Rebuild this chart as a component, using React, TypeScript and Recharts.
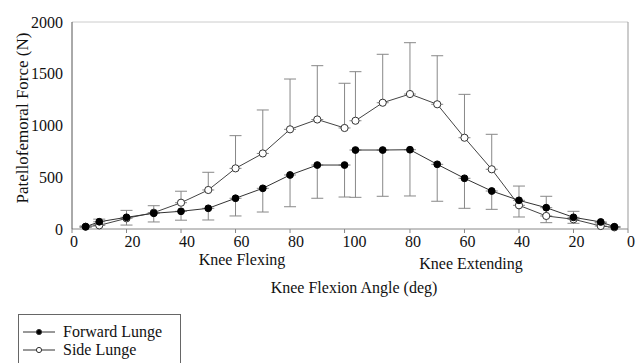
import React from "react";
import { LineChart, Line, XAxis, YAxis, ErrorBar, ReferenceLine } from "recharts";

// knee angle in degrees, flexing phase then extending phase
const flexAngles = [5, 10, 20, 30, 40, 50, 60, 70, 80, 90, 100];
const extAngles = [100, 90, 80, 70, 60, 50, 40, 30, 20, 10, 5];

// Forward lunge (mean, lower SD end)
const fwdFlex = [22, 70, 113, 152, 171, 200, 297, 393, 522, 618, 618];
const fwdFlexLow = [15, 45, 38, 68, 85, 87, 126, 164, 215, 297, 309];
const fwdExt = [763, 763, 766, 625, 490, 367, 277, 206, 113, 68, 22];
const fwdExtLow = [306, 316, 319, 268, 200, 190, 116, 61, 55, 48, 15];

// Side lunge (mean, upper SD end)
const sideFlex = [22, 35, 103, 158, 254, 377, 586, 730, 963, 1058, 976];
const sideFlexHigh = [30, 95, 180, 225, 365, 548, 902, 1150, 1449, 1578, 1408];
const sideExt = [1046, 1220, 1304, 1205, 882, 577, 229, 126, 94, 29, 16];
const sideExtHigh = [1520, 1688, 1800, 1674, 1301, 915, 415, 316, 171, 62, 25];

const xTicks = [0, 20, 40, 60, 80, 100, 80, 60, 40, 20, 0];
const yTicks = [0, 500, 1000, 1500, 2000];

// extending phase is laid out after a small gap, angle running back to 0
const EXT_END = 204;
const toPos = (angle: number, ext: boolean) => (ext ? EXT_END - angle : angle);

const data: any[] = [];
flexAngles.forEach((a, i) => {
  data.push({
    x: toPos(a, false),
    fwd: fwdFlex[i],
    side: sideFlex[i],
    fwdErr: [fwdFlex[i] - fwdFlexLow[i], 0],
    sideErr: [0, sideFlexHigh[i] - sideFlex[i]],
  });
});
data.push({ x: 102, fwd: null, side: null, fwdErr: null, sideErr: null });
extAngles.forEach((a, i) => {
  data.push({
    x: toPos(a, true),
    fwd: fwdExt[i],
    side: sideExt[i],
    fwdErr: [fwdExt[i] - fwdExtLow[i], 0],
    sideErr: [0, sideExtHigh[i] - sideExt[i]],
  });
});

const tickPositions = xTicks.map((t, i) => toPos(t, i > 5));

const font = "'Liberation Serif', 'Times New Roman', serif";

function XTick(props: any) {
  const { x, y, payload, index } = props;
  const label = xTicks[index];
  const dx = index === 0 ? 2 : index === 5 ? 10 : index < 5 ? 6 : 3;
  return (
    <text x={x + dx} y={y} dy="0.75em" textAnchor="middle" fontSize={16} fontFamily={font} fill="#111">
      {label ?? payload.value}
    </text>
  );
}

function XLabel() {
  return (
    <g fontFamily={font} fontSize={16} fill="#111">
      <text x={242} y={259} textAnchor="middle" dominantBaseline="central">Knee Flexing</text>
      <text x={471} y={263} textAnchor="middle" dominantBaseline="central">Knee Extending</text>
      <text x={354} y={287} textAnchor="middle" dominantBaseline="central">Knee Flexion Angle (deg)</text>
    </g>
  );
}

function YLabel() {
  return (
    <text
      x={22}
      y={118}
      transform="rotate(-90 22 118)"
      textAnchor="middle"
      dominantBaseline="central"
      fontSize={17}
      fontFamily={font}
      fill="#111"
    >
      Patellofemoral Force (N)
    </text>
  );
}

export default function App() {
  return (
    <div style={{ position: "absolute", left: 0, top: 0, width: 641, height: 363, overflow: "hidden", background: "#fff" }}>
      <LineChart width={641} height={363} data={data} margin={{ top: 22, right: 13, left: 0, bottom: 104 }}>
        <XAxis
          dataKey="x"
          type="number"
          domain={[0, EXT_END]}
          ticks={tickPositions}
          interval={0}
          height={30}
          stroke="#888"
          tickSize={4}
          tick={<XTick />}
          label={<XLabel />}
        />
        <YAxis
          type="number"
          domain={[0, 2000]}
          ticks={yTicks}
          width={72}
          stroke="#555"
          tickLine={false}
          tickMargin={3}
          tick={{ fontSize: 16, fontFamily: font, fill: "#111" }}
          label={<YLabel />}
        />
        <ReferenceLine y={2000} stroke="#ccc" />
        <ReferenceLine x={EXT_END} stroke="#999" />
        <Line
          dataKey="side"
          stroke="#444"
          strokeWidth={1}
          isAnimationActive={false}
          dot={{ r: 3.6, fill: "#fff", stroke: "#333", strokeWidth: 1 }}
        >
          <ErrorBar dataKey="sideErr" width={6} stroke="#888" strokeWidth={1} direction="y" />
        </Line>
        <Line
          dataKey="fwd"
          stroke="#333"
          strokeWidth={1}
          isAnimationActive={false}
          dot={{ r: 3.4, fill: "#000", stroke: "#000", strokeWidth: 1 }}
        >
          <ErrorBar dataKey="fwdErr" width={6} stroke="#888" strokeWidth={1} direction="y" />
        </Line>
      </LineChart>
      <div
        style={{
          position: "absolute",
          left: 18,
          top: 314,
          width: 163,
          height: 60,
          border: "1px solid #666",
          fontFamily: font,
          fontSize: 16,
          color: "#111",
          boxSizing: "border-box",
        }}
      >
        {[
          { name: "Forward Lunge", fill: "#000" },
          { name: "Side Lunge", fill: "#fff" },
        ].map((item, i) => (
          <div key={item.name} style={{ position: "absolute", left: 0, top: 8 + i * 18, height: 18, display: "flex", alignItems: "center" }}>
            <svg width={44} height={18} style={{ display: "block" }}>
              <line x1={4} y1={9} x2={36} y2={9} stroke="#333" strokeWidth={1} />
              <circle cx={20} cy={9} r={2.6} fill={item.fill} stroke="#333" strokeWidth={1} />
            </svg>
            <span style={{ whiteSpace: "nowrap" }}>{item.name}</span>
          </div>
        ))}
      </div>
    </div>
  );
}
